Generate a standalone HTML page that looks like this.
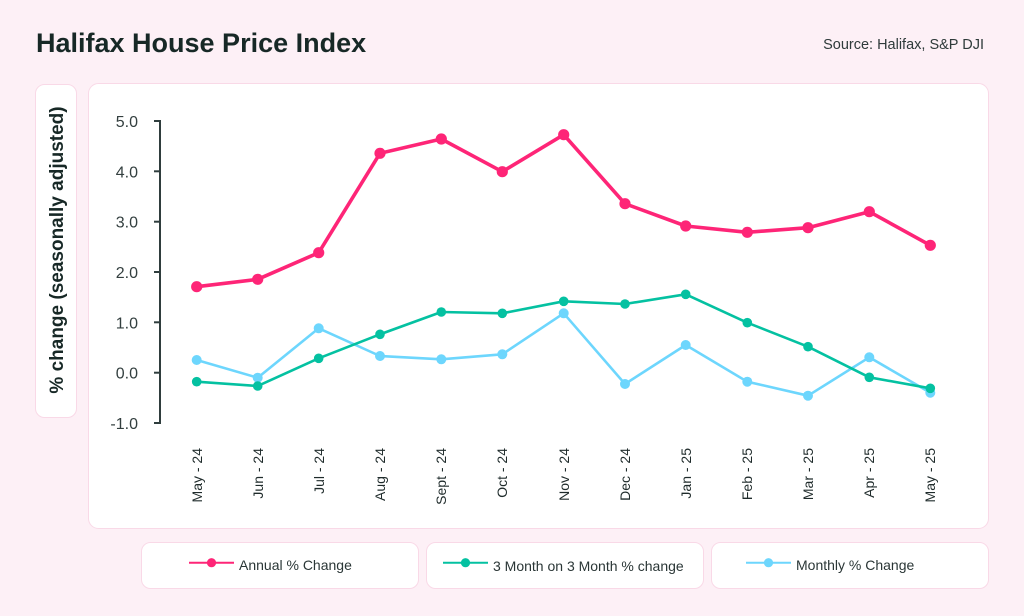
<!DOCTYPE html>
<html><head><meta charset="utf-8"><style>
html,body{margin:0;padding:0;}
body{width:1024px;height:616px;background:#fdf0f6;position:relative;overflow:hidden;font-family:"Liberation Sans",sans-serif;}
</style></head><body>
<svg width="1024" height="616" viewBox="0 0 1024 616" xmlns="http://www.w3.org/2000/svg" style="position:absolute;left:0;top:0">
<rect x="0" y="0" width="1024" height="616" fill="#fdf0f6"/>
<text x="36" y="52" font-family="Liberation Sans, sans-serif" font-size="27" font-weight="bold" fill="#172826">Halifax House Price Index</text>
<text x="984" y="49" text-anchor="end" font-family="Liberation Sans, sans-serif" font-size="14.5" fill="#2e3a3a">Source: Halifax, S&amp;P DJI</text>

<rect x="35.5" y="84.5" width="41" height="333" rx="9" fill="#ffffff" stroke="#f9d9e7" stroke-width="1"/>
<text transform="translate(63,250) rotate(-90)" text-anchor="middle" font-family="Liberation Sans, sans-serif" font-size="19" font-weight="bold" fill="#172826">% change (seasonally adjusted)</text>

<rect x="88.5" y="83.5" width="900" height="445" rx="10" fill="#ffffff" stroke="#f9d9e7" stroke-width="1"/>

<!-- axis -->
<g stroke="#2f3d3d" stroke-width="2" fill="none">
<line x1="160" y1="120" x2="160" y2="424"/>
<line x1="154" y1="121" x2="160" y2="121"/>
<line x1="154" y1="171.3" x2="160" y2="171.3"/>
<line x1="154" y1="221.7" x2="160" y2="221.7"/>
<line x1="154" y1="272" x2="160" y2="272"/>
<line x1="154" y1="322.3" x2="160" y2="322.3"/>
<line x1="154" y1="372.7" x2="160" y2="372.7"/>
<line x1="154" y1="423" x2="160" y2="423"/>
</g>
<g font-family="Liberation Sans, sans-serif" font-size="16" fill="#333f3f" text-anchor="end">
<text x="138" y="127">5.0</text>
<text x="138" y="177.3">4.0</text>
<text x="138" y="227.7">3.0</text>
<text x="138" y="278">2.0</text>
<text x="138" y="328.3">1.0</text>
<text x="138" y="378.7">0.0</text>
<text x="138" y="429">-1.0</text>
</g>

<g font-family="Liberation Sans, sans-serif" font-size="14" fill="#1f2b2b" text-anchor="end">
<text transform="translate(202,448) rotate(-90)">May - 24</text>
<text transform="translate(263,448) rotate(-90)">Jun - 24</text>
<text transform="translate(324,448) rotate(-90)">Jul - 24</text>
<text transform="translate(385,448) rotate(-90)">Aug - 24</text>
<text transform="translate(446,448) rotate(-90)">Sept - 24</text>
<text transform="translate(507,448) rotate(-90)">Oct - 24</text>
<text transform="translate(569,448) rotate(-90)">Nov - 24</text>
<text transform="translate(630,448) rotate(-90)">Dec - 24</text>
<text transform="translate(691,448) rotate(-90)">Jan - 25</text>
<text transform="translate(752,448) rotate(-90)">Feb - 25</text>
<text transform="translate(813,448) rotate(-90)">Mar - 25</text>
<text transform="translate(874,448) rotate(-90)">Apr - 25</text>
<text transform="translate(935,448) rotate(-90)">May - 25</text>
</g>

<!-- Monthly -->
<g fill="#6dd6fd">
<polyline fill="none" stroke="#6dd6fd" stroke-width="2.6" stroke-linejoin="round" points="196.7,360 257.7,377.7 318.7,328.3 380,356 441.3,359.3 502.3,354.3 563.7,313.3 625,384 685.7,345 747.3,381.7 808,395.7 869.3,357.3 930.3,392.7"/>
<circle cx="196.7" cy="360" r="5"/><circle cx="257.7" cy="377.7" r="5"/><circle cx="318.7" cy="328.3" r="5"/><circle cx="380" cy="356" r="5"/><circle cx="441.3" cy="359.3" r="5"/><circle cx="502.3" cy="354.3" r="5"/><circle cx="563.7" cy="313.3" r="5"/><circle cx="625" cy="384" r="5"/><circle cx="685.7" cy="345" r="5"/><circle cx="747.3" cy="381.7" r="5"/><circle cx="808" cy="395.7" r="5"/><circle cx="869.3" cy="357.3" r="5"/><circle cx="930.3" cy="392.7" r="5"/>
</g>
<!-- 3M -->
<g fill="#04c1a1">
<polyline fill="none" stroke="#04c1a1" stroke-width="2.6" stroke-linejoin="round" points="196.7,381.7 257.7,386 318.7,358.3 380,334.3 441.3,312 502.3,313.3 563.7,301.3 625,304 685.7,294.3 747.3,322.7 808,346.7 869.3,377.3 930.3,388.3"/>
<circle cx="196.7" cy="381.7" r="4.8"/><circle cx="257.7" cy="386" r="4.8"/><circle cx="318.7" cy="358.3" r="4.8"/><circle cx="380" cy="334.3" r="4.8"/><circle cx="441.3" cy="312" r="4.8"/><circle cx="502.3" cy="313.3" r="4.8"/><circle cx="563.7" cy="301.3" r="4.8"/><circle cx="625" cy="304" r="4.8"/><circle cx="685.7" cy="294.3" r="4.8"/><circle cx="747.3" cy="322.7" r="4.8"/><circle cx="808" cy="346.7" r="4.8"/><circle cx="869.3" cy="377.3" r="4.8"/><circle cx="930.3" cy="388.3" r="4.8"/>
</g>
<!-- Annual -->
<g fill="#fe2577">
<polyline fill="none" stroke="#fe2577" stroke-width="3.6" stroke-linejoin="round" points="196.7,286.7 257.7,279.3 318.7,252.7 380,153.3 441.3,139 502.3,171.7 563.7,134.7 625,203.7 685.7,226 747.3,232.3 808,227.7 869.3,211.7 930.3,245.3"/>
<circle cx="196.7" cy="286.7" r="5.6"/><circle cx="257.7" cy="279.3" r="5.6"/><circle cx="318.7" cy="252.7" r="5.6"/><circle cx="380" cy="153.3" r="5.6"/><circle cx="441.3" cy="139" r="5.6"/><circle cx="502.3" cy="171.7" r="5.6"/><circle cx="563.7" cy="134.7" r="5.6"/><circle cx="625" cy="203.7" r="5.6"/><circle cx="685.7" cy="226" r="5.6"/><circle cx="747.3" cy="232.3" r="5.6"/><circle cx="808" cy="227.7" r="5.6"/><circle cx="869.3" cy="211.7" r="5.6"/><circle cx="930.3" cy="245.3" r="5.6"/>
</g>

<!-- Legend -->
<rect x="141.5" y="542.5" width="277" height="46" rx="9" fill="#ffffff" stroke="#f9d9e7"/>
<rect x="426.5" y="542.5" width="277" height="46" rx="9" fill="#ffffff" stroke="#f9d9e7"/>
<rect x="711.5" y="542.5" width="277" height="46" rx="9" fill="#ffffff" stroke="#f9d9e7"/>

<line x1="189" y1="562.7" x2="234" y2="562.7" stroke="#fe2577" stroke-width="2"/>
<circle cx="211.5" cy="562.7" r="4.6" fill="#fe2577"/>
<text x="239" y="570" font-family="Liberation Sans, sans-serif" font-size="14" fill="#2a3636">Annual % Change</text>

<line x1="443" y1="562.7" x2="488" y2="562.7" stroke="#04c1a1" stroke-width="2"/>
<circle cx="465.5" cy="562.7" r="4.6" fill="#04c1a1"/>
<text x="493" y="571" font-family="Liberation Sans, sans-serif" font-size="14" fill="#2a3636">3 Month on 3 Month % change</text>

<line x1="746" y1="562.7" x2="791" y2="562.7" stroke="#6dd6fd" stroke-width="2"/>
<circle cx="768.5" cy="562.7" r="4.6" fill="#6dd6fd"/>
<text x="796" y="570" font-family="Liberation Sans, sans-serif" font-size="14" fill="#2a3636">Monthly % Change</text>
</svg>
</body></html>
